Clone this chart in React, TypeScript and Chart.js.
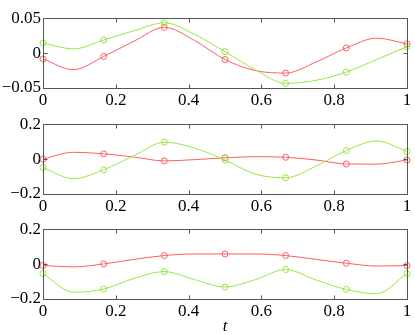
import React, { useEffect, useRef } from 'react';
import { Chart, registerables } from 'chart.js';
Chart.register(...registerables);

// Sample times (markers shown every second sample: t = 0, 1/6, ..., 1)
const tValues = [0, 0.0833, 0.1667, 0.25, 0.3333, 0.4167, 0.5, 0.5833, 0.6667, 0.75, 0.8333, 0.9167, 1];
const markerEvery = 2;
const xTicks = [0, 0.2, 0.4, 0.6, 0.8, 1];

// Panel 1
const p1Red = [-0.0084, -0.0237, -0.0049, 0.017, 0.0368, 0.018, -0.0092, -0.025, -0.0286, -0.0128, 0.0074, 0.0214, 0.0132];
const p1Green = [0.0145, 0.006, 0.0188, 0.032, 0.0434, 0.0267, 0.0021, -0.024, -0.0434, -0.039, -0.0272, -0.0092, 0.0092];
const p1YTicks = [-0.05, 0, 0.05];

// Panel 2
const p2Red = [0, 0.039, 0.03, 0.012, -0.0105, -0.003, 0.0074, 0.014, 0.0105, -0.005, -0.028, -0.029, -0.005];
const p2Green = [-0.049, -0.112, -0.061, 0.02, 0.097, 0.063, -0.005, -0.086, -0.107, -0.04, 0.049, 0.104, 0.044];
const p2YTicks = [-0.2, 0, 0.2];

// Panel 3
const p3Red = [-0.008, -0.016, 0.001, 0.027, 0.049, 0.058, 0.058, 0.058, 0.049, 0.027, 0.005, -0.011, -0.008];
const p3Green = [-0.054, -0.161, -0.143, -0.082, -0.043, -0.089, -0.131, -0.089, -0.031, -0.091, -0.145, -0.17, -0.054];
const p3YTicks = [-0.2, 0, 0.2];

const xTitle = 't';

const RED = 'rgb(255,95,95)';
const GREEN = 'rgb(150,230,70)';
const FONT = "'Liberation Serif', 'Times New Roman', 'DejaVu Serif', serif";
const FRAME = '#555';

const fmt = (v: number) => {
  const s = String(Number(v.toFixed(4)));
  return s.replace('-', '\u2212');
};

const framePlugin = {
  id: 'frame',
  afterDraw(chart: any) {
    const { ctx, chartArea } = chart;
    const { left, right, top, bottom } = chartArea;
    const x = chart.scales.x;
    const y = chart.scales.y;
    ctx.save();
    ctx.strokeStyle = FRAME;
    ctx.lineWidth = 1;
    const L = Math.round(left) + 0.5, R = Math.round(right) + 0.5;
    const T = Math.round(top) + 0.5, B = Math.round(bottom) + 0.5;
    ctx.strokeRect(L, T, R - L, B - T);
    ctx.beginPath();
    x.ticks.forEach((t: any) => {
      const px = Math.round(x.getPixelForValue(t.value)) + 0.5;
      ctx.moveTo(px, B); ctx.lineTo(px, B - 4);
      ctx.moveTo(px, T); ctx.lineTo(px, T + 4);
    });
    y.ticks.forEach((t: any) => {
      const py = Math.round(y.getPixelForValue(t.value)) + 0.5;
      ctx.moveTo(L, py); ctx.lineTo(L + 4, py);
      ctx.moveTo(R, py); ctx.lineTo(R - 4, py);
    });
    ctx.stroke();
    ctx.restore();
  },
};

function Panel(props: { red: number[]; green: number[]; yTicks: number[]; top: number; height: number; xAxisH: number; title?: string }) {
  const ref = useRef<HTMLCanvasElement>(null);
  useEffect(() => {
    let chart: Chart | null = null;
    let cancelled = false;
    const mk = (vals: number[], color: string) => ({
      data: tValues.map((t, i) => ({ x: t, y: vals[i] })),
      borderColor: color,
      backgroundColor: 'rgba(0,0,0,0)',
      borderWidth: 1,
      cubicInterpolationMode: 'monotone' as const,
      pointRadius: (c: any) => (c.dataIndex % markerEvery === 0 ? 3 : 0),
      pointBorderColor: color,
      pointBackgroundColor: 'rgba(0,0,0,0)',
      pointBorderWidth: 1,
      clip: false as any,
    });
    const yMin = props.yTicks[0];
    const yMax = props.yTicks[props.yTicks.length - 1];
    const build = () => {
      if (cancelled || !ref.current) return;
      chart = new Chart(ref.current, {
        type: 'line',
        data: { datasets: [mk(props.green, GREEN), mk(props.red, RED)] },
        plugins: [framePlugin],
        options: {
          animation: false,
          responsive: false,
          maintainAspectRatio: false,
          layout: { padding: { top: 6, right: 8, left: 0, bottom: 0 } },
          plugins: { legend: { display: false }, tooltip: { enabled: false } },
          scales: {
            x: {
              type: 'linear',
              min: 0,
              max: 1,
              afterBuildTicks: (s: any) => { s.ticks = xTicks.map((v) => ({ value: v })); },
              afterFit: (s: any) => { s.height = props.xAxisH; },
              grid: { display: false, drawTicks: false },
              border: { display: false },
              ticks: { color: '#000', font: { family: FONT, size: 17 }, padding: 2, maxRotation: 0, autoSkip: false, callback: (v: any) => fmt(Number(v)) },
              title: props.title
                ? { display: true, text: props.title, color: '#000', font: { family: FONT, size: 17, style: 'italic' }, padding: { top: 0, bottom: 4 } }
                : { display: false },
            },
            y: {
              type: 'linear',
              min: yMin,
              max: yMax,
              afterBuildTicks: (s: any) => { s.ticks = props.yTicks.map((v) => ({ value: v })); },
              afterFit: (s: any) => { s.width = 43; },
              grid: { display: false, drawTicks: false },
              border: { display: false },
              ticks: { color: '#000', font: { family: FONT, size: 17 }, padding: 2, autoSkip: false, callback: (v: any) => fmt(Number(v)) },
            },
          },
        },
      });
    };
    const fonts: any = (document as any).fonts;
    if (fonts && fonts.load) {
      Promise.all([
        fonts.load("17px 'Liberation Serif'"),
        fonts.load("italic 17px 'Liberation Serif'"),
      ]).then(build, build);
    } else {
      build();
    }
    return () => {
      cancelled = true;
      if (chart) chart.destroy();
    };
  }, []);
  return (
    <canvas
      ref={ref}
      width={415}
      height={props.height}
      style={{ position: 'absolute', left: 0, top: props.top, width: 415, height: props.height }}
    />
  );
}

export default function App() {
  return (
    <div style={{ position: 'fixed', left: 0, top: 0, width: 415, height: 335, background: '#fff', overflow: 'hidden' }}>
      <Panel red={p1Red} green={p1Green} yTicks={p1YTicks} top={6} height={112} xAxisH={30} />
      <Panel red={p2Red} green={p2Green} yTicks={p2YTicks} top={112} height={112} xAxisH={30} />
      <Panel red={p3Red} green={p3Green} yTicks={p3YTicks} top={217} height={124} xAxisH={42} title={xTitle} />
    </div>
  );
}
